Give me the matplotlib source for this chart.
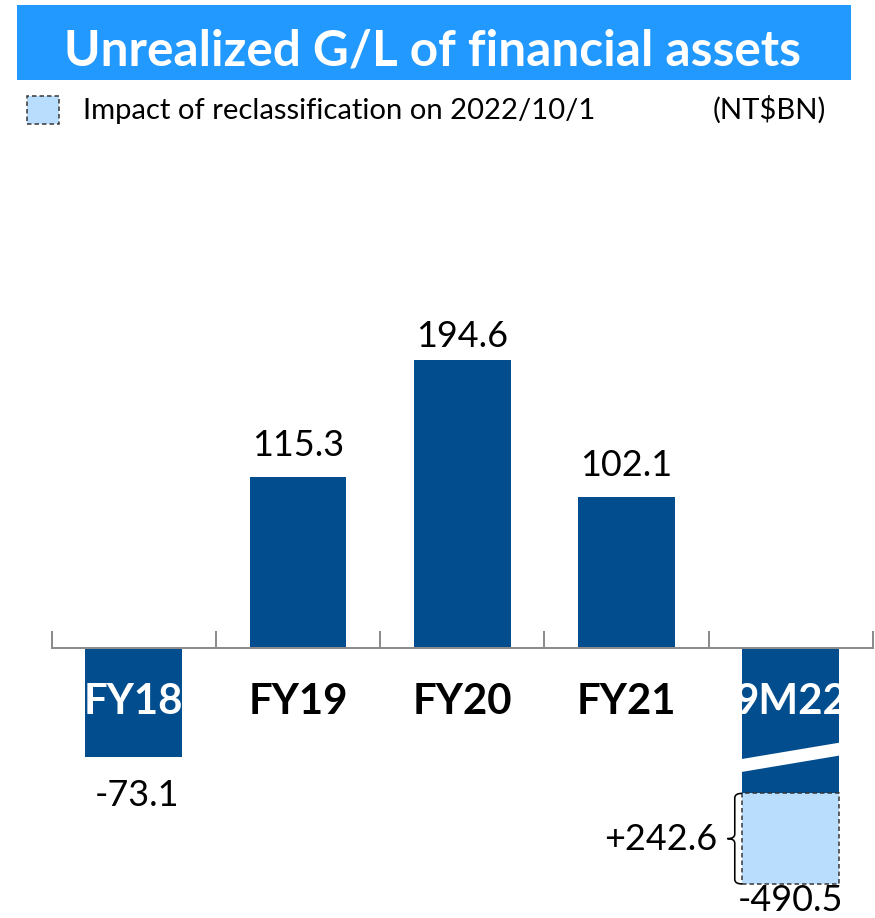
import numpy as np
import matplotlib
matplotlib.use("Agg")
import matplotlib.pyplot as plt
from matplotlib.patches import Rectangle, Polygon, PathPatch
from matplotlib.path import Path

# ---- data (NT$BN) ----
categories = ["FY18", "FY19", "FY20", "FY21", "9M22"]
values = [-73.1, 115.3, 194.6, 102.1, -490.5]
value_labels = ["-73.1", "115.3", "194.6", "102.1", "-490.5"]
reclass_impact = 242.6
reclass_label = "+242.6"
title = "Unrealized G/L of financial assets"
legend_text = "Impact of reclassification on 2022/10/1"
unit_text = "(NT$BN)"

# ---- style ----
FONT = "Lato"
DARK = "#024D8D"
LIGHT = "#B9DDFD"
TITLE_BG = "#2299FF"
AXIS_GREY = "#8C8C8C"
W, H, DPI = 875, 918, 100
PT = 72 / DPI  # pixels -> points

# broken value axis: linear near zero, compressed below the break
after_reclass = values[4] + reclass_impact
data_knots = np.array([-490.5, after_reclass, -85.0])
disp_knots = np.array([-158.9, -97.8, -85.0])
lo_slope = (disp_knots[1] - disp_knots[0]) / (data_knots[1] - data_knots[0])
dk = np.concatenate([[-5000.0], data_knots, [5000.0]])
pk = np.concatenate([[disp_knots[0] + (-5000.0 - data_knots[0]) * lo_slope],
                     disp_knots, [5000.0]])


def fwd(y):
    return np.interp(y, dk, pk)


def inv(d):
    return np.interp(d, pk, dk)


fig = plt.figure(figsize=(W / DPI, H / DPI), dpi=DPI)
fig.patch.set_facecolor("white")

# axes spans the category band horizontally and the full height vertically
zero_px = 648.3
px_per_unit = 1.483
ax = fig.add_axes([51.7 / W, 0, 821.0 / W, 1])
ax.set_yscale("function", functions=(fwd, inv))
ax.set_xlim(-0.5, len(categories) - 0.5)
ax.set_ylim(inv(-(H - zero_px) / px_per_unit), inv(zero_px / px_per_unit))
ax.patch.set_alpha(0)

for s in ["top", "right", "left"]:
    ax.spines[s].set_visible(False)
ax.spines["bottom"].set_position(("data", 0))
ax.spines["bottom"].set_color(AXIS_GREY)
ax.spines["bottom"].set_linewidth(2 * PT)
ax.spines["bottom"].set_zorder(5)
ax.set_xticks(np.arange(-0.5, len(categories), 1.0))
ax.tick_params(axis="x", direction="in", length=17 * PT, width=2 * PT,
               color=AXIS_GREY, labelbottom=False)
ax.set_yticks([])

x = np.arange(len(categories))
bw = 0.59

# bars (9M22 dark part shows the value after reclassification)
dark_vals = list(values[:4]) + [after_reclass]
bars = ax.bar(x, dark_vals, width=bw, color=DARK, zorder=2)

# reclassification impact box
ax.add_patch(Rectangle((x[4] - bw / 2, values[4]), bw, reclass_impact,
                       facecolor=LIGHT, edgecolor="#333333", linestyle=(0, (3, 2)),
                       linewidth=1.5 * PT, zorder=2))

# white break slash on the 9M22 bar
xl, xr = x[4] - bw / 2 - 0.02, x[4] + bw / 2 + 0.02
slash = Polygon([(xl, -75.0), (xr, -63.3), (xr, -72.0), (xl, -83.7)],
                closed=True, facecolor="white", edgecolor="none", zorder=3)
ax.add_patch(slash)

# value labels
above_gap = [0, 21.5, 12.3, 20.7]
for i in (1, 2, 3):
    ax.annotate(value_labels[i], (x[i], values[i]), xytext=(0, above_gap[i] * PT),
                textcoords="offset points", ha="center", va="baseline",
                fontsize=36 * PT, family=FONT, color="black")
ax.annotate(value_labels[0], (x[0], values[0]), xytext=(3 * PT, -49.3 * PT),
            textcoords="offset points", ha="center", va="baseline",
            fontsize=36 * PT, family=FONT, color="black")
ax.annotate(value_labels[4], (x[4], values[4]), xytext=(0, -27 * PT),
            textcoords="offset points", ha="center", va="baseline",
            fontsize=36 * PT, family=FONT, color="black", annotation_clip=False)

# category labels
for i, c in enumerate(categories):
    inside = dark_vals[i] < 0
    t = ax.annotate(c, (x[i], 0), xytext=(0, -65.5 * PT), textcoords="offset points",
                    ha="center", va="baseline", fontsize=42 * PT, family=FONT,
                    fontweight="bold", color="white" if inside else "black", zorder=4)
    if inside:
        t.set_clip_path(bars[i])

# brace beside the impact box
top_y, bot_y = after_reclass, values[4]
mid_y = inv((fwd(top_y) + fwd(bot_y)) / 2)
xb = x[4] - bw / 2           # right end of brace hooks
xv = xb - 0.045              # vertical stem
xc = xb - 0.09               # pointed middle
d = 0.05 * (fwd(top_y) - fwd(bot_y))
verts = [
    (xb, fwd(top_y)), (xv, fwd(top_y)), (xv, fwd(top_y) - d),
    (xv, fwd(mid_y) + d),
    (xv, fwd(mid_y)), (xc, fwd(mid_y)),
    (xv, fwd(mid_y)), (xv, fwd(mid_y) - d),
    (xv, fwd(bot_y) + d),
    (xv, fwd(bot_y)), (xb, fwd(bot_y)),
]
verts = [(vx, float(inv(vy))) for vx, vy in verts]
codes = [Path.MOVETO, Path.CURVE3, Path.CURVE3, Path.LINETO,
         Path.CURVE3, Path.CURVE3, Path.CURVE3, Path.CURVE3,
         Path.LINETO, Path.CURVE3, Path.CURVE3]
ax.add_patch(PathPatch(Path(verts, codes), facecolor="none", edgecolor="black",
                       linewidth=1.6 * PT, zorder=4))
ax.annotate(reclass_label, (xc, mid_y), xytext=(-10 * PT, -11 * PT),
            textcoords="offset points", ha="right", va="baseline",
            fontsize=36 * PT, family=FONT, color="black")

# title banner
fig.patches.append(Rectangle((17 / W, 1 - 80 / H), (851 - 17) / W, 75 / H,
                             transform=fig.transFigure, facecolor=TITLE_BG,
                             edgecolor="none", zorder=0))
fig.text(433 / W, 1 - 65 / H, title, ha="center", va="baseline",
         fontsize=49.5 * PT, family=FONT, fontweight="bold", color="white")

# legend
fig.patches.append(Rectangle((27 / W, 1 - 124 / H), 32 / W, 28 / H,
                             transform=fig.transFigure, facecolor=LIGHT,
                             edgecolor="#333333", linestyle=(0, (3, 2)),
                             linewidth=1.5 * PT))
fig.text(83 / W, 1 - 119 / H, legend_text, ha="left", va="baseline",
         fontsize=29.2 * PT, family=FONT, color="black")
fig.text(826 / W, 1 - 119 / H, unit_text, ha="right", va="baseline",
         fontsize=29.2 * PT, family=FONT, color="black")

fig.savefig("out.png", dpi=DPI, facecolor="white")
